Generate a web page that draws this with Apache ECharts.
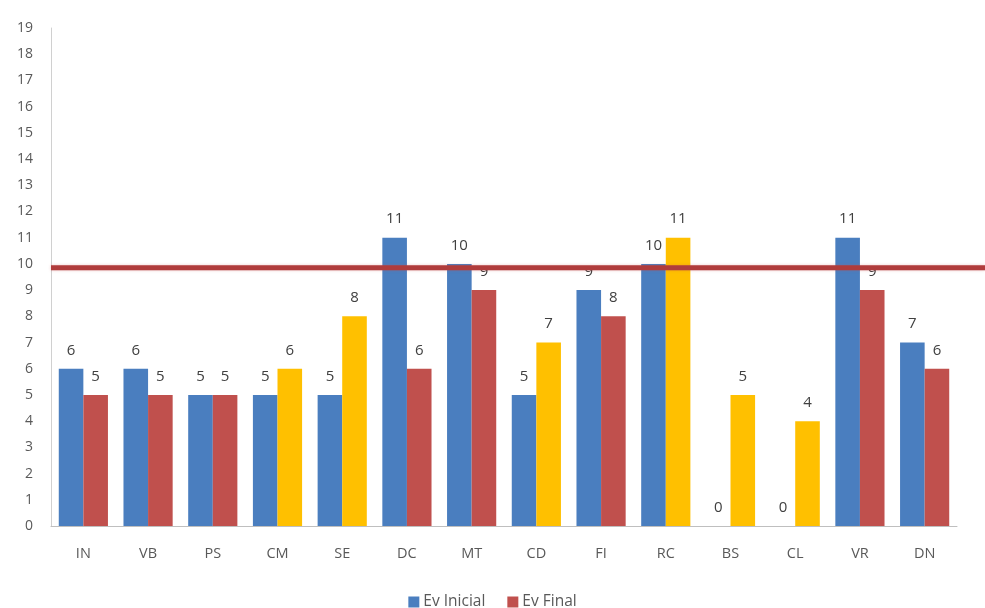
<!DOCTYPE html>
<html>
<head>
<meta charset="utf-8">
<script src="https://cdn.jsdelivr.net/npm/echarts@6/dist/echarts.min.js"></script>
<style>
  html, body { margin: 0; padding: 0; background: #ffffff; }
  #chart { width: 985px; height: 608px; }
</style>
</head>
<body>
<div id="chart"></div>
<script>
// Categories and scores per evaluation
const categories = ['IN', 'VB', 'PS', 'CM', 'SE', 'DC', 'MT', 'CD', 'FI', 'RC', 'BS', 'CL', 'VR', 'DN'];
const evInicial = [6, 6, 5, 5, 5, 11, 10, 5, 9, 10, 0, 0, 11, 7];
const evFinal = [5, 5, 5, 6, 8, 6, 9, 7, 8, 11, 5, 4, 9, 6];
const targetLevel = 9.85;
const yTicks = [0, 19, 1]; // min, max, interval

const BLUE = '#4A7EBF';
const RED = '#C0504D';
const YELLOW = '#FFC000';
const FONT = 'Open Sans, Liberation Sans, sans-serif';

const chart = echarts.init(document.getElementById('chart'), null, { renderer: 'canvas' });

// Improvements are highlighted in yellow
const finalData = evFinal.map((v, i) => ({
  value: v,
  itemStyle: { color: v > evInicial[i] ? YELLOW : RED }
}));

const labelStyle = {
  show: true,
  position: 'top',
  distance: 11,
  color: '#404040',
  fontSize: 15,
  fontFamily: FONT
};

chart.setOption({
  animation: false,
  backgroundColor: '#ffffff',
  grid: { left: 51, right: 28, top: 28, bottom: 82 },
  legend: {
    top: 589,
    left: 'center',
    itemWidth: 11,
    itemHeight: 11,
    itemGap: 22,
    icon: 'rect',
    textStyle: { color: '#595959', fontSize: 15.5, fontFamily: FONT, padding: [0, 0, 0, -1] },
    data: [
      { name: 'Ev Inicial', itemStyle: { color: BLUE } },
      { name: 'Ev Final', itemStyle: { color: RED } }
    ]
  },
  xAxis: {
    type: 'category',
    data: categories,
    axisLine: { lineStyle: { color: '#BFBFBF', width: 1 } },
    axisTick: { show: false },
    axisLabel: { color: '#595959', fontSize: 14.5, margin: 20, fontFamily: FONT }
  },
  yAxis: {
    type: 'value',
    min: yTicks[0],
    max: yTicks[1],
    interval: yTicks[2],
    axisLine: { show: true, lineStyle: { color: '#D0D0D0', width: 1 } },
    axisTick: { show: false },
    splitLine: { show: false },
    axisLabel: { color: '#595959', fontSize: 14, margin: 18, fontFamily: FONT }
  },
  series: [
    {
      name: 'Ev Inicial',
      type: 'bar',
      data: evInicial,
      barGap: '0%',
      barCategoryGap: '24%',
      itemStyle: { color: BLUE },
      label: labelStyle
    },
    {
      name: 'Ev Final',
      type: 'bar',
      data: finalData,
      barGap: '0%',
      barCategoryGap: '24%',
      itemStyle: { color: RED },
      label: labelStyle
    }
  ]
});

// Target level line, running from the y axis to the right edge of the canvas
const lineY = chart.convertToPixel({ yAxisIndex: 0 }, targetLevel);
const gridLeft = chart.getModel().getComponent('grid').coordinateSystem.getRect().x;
chart.setOption({
  graphic: [{
    type: 'line',
    z: 100,
    shape: { x1: gridLeft, y1: lineY, x2: 985, y2: lineY },
    style: { stroke: '#B03C3C', lineWidth: 5, shadowBlur: 3, shadowColor: 'rgba(200,80,80,0.35)' }
  }]
});
</script>
</body>
</html>
